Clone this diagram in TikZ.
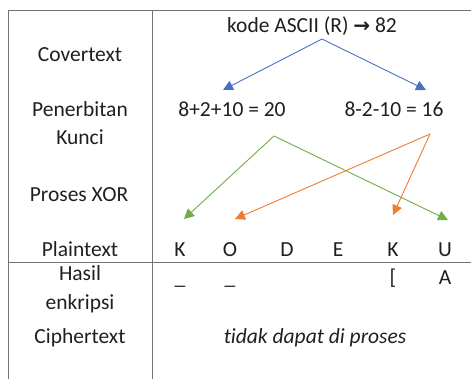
\documentclass[tikz,border=0pt]{standalone}
\usepackage{fontspec}
\setmainfont{Carlito}[Ligatures={NoCommon}]
\newfontfamily\symfont{DejaVu Sans}
\usetikzlibrary{arrows.meta}
\tikzset{
  txt/.style={anchor=base, inner sep=0pt, font=\fontsize{21.5}{26}\selectfont, text=black!88},
  grid/.style={draw=black!55, line width=0.9pt},
  arr/.style={line width=0.9pt, -{Triangle[length=10pt,width=10pt]}},
}
\definecolor{oblue}{HTML}{4472C4}
\definecolor{oorange}{HTML}{ED7D31}
\definecolor{ogreen}{HTML}{70AD47}
\begin{document}
\begin{tikzpicture}[x=1pt,y=-1pt]
\useasboundingbox (0,0) rectangle (471,379);
% table lines
\draw[grid] (8,379) -- (8,10) -- (471,10);
\draw[grid] (152,10) -- (152,379);
\draw[grid] (8,262) -- (471,262);
% left column
\node[txt] (cov) at (80,62) {Covertext};
\node[txt] (pen) at (80,117) {Penerbitan};
\node[txt] (kun) at (80,145) {Kunci};
\node[txt] (xor) at (79,202) {Proses XOR};
\node[txt] (pla) at (80,257) {Plaintext};
\node[txt] (has) at (80,280) {Hasil};
\node[txt] (enk) at (80,309) {enkripsi};
\node[txt] (cip) at (80,343) {Ciphertext};
% content
\node[txt] (asc) at (312,33) {kode ASCII (R) {\symfont\bfseries\fontsize{20}{22}\selectfont\raisebox{0.5pt}{→}} 82};
\node[txt] (k1) at (232,117) {8+2+10 = 20};
\node[txt] (k2) at (394,117) {8-2-10 = 16};
\node[txt] (pK) at (180,257) {K};
\node[txt] (pO) at (230,257) {O};
\node[txt] (pD) at (287,257) {D};
\node[txt] (pE) at (338,257) {E};
\node[txt] (pK2) at (393,257) {K};
\node[txt] (pU) at (445,257) {U};
\node[txt] (h1) at (180,285) {\_};
\node[txt] (h2) at (230,285) {\_};
\node[txt] (h5) at (393,285) {[};
\node[txt] (h6) at (445,285) {A};
\node[txt] (tdp) at (315,343) {\itshape tidak dapat di proses};
% arrow coordinates
\coordinate (bA) at (322,39);
\coordinate (bL) at (223,90);
\coordinate (bR) at (426,90);
\coordinate (gA) at (274,136);
\coordinate (gL) at (184,219);
\coordinate (gR) at (448,220);
\coordinate (oA) at (430,134);
\coordinate (oL) at (235,219);
\coordinate (oR) at (393,215);
\draw[arr, oblue] (bA) -- (bL);
\draw[arr, oblue] (bA) -- (bR);
\draw[arr, ogreen] (gA) -- (gL);
\draw[arr, ogreen] (gA) -- (gR);
\draw[arr, oorange] (oA) -- (oL);
\draw[arr, oorange] (oA) -- (oR);
\end{tikzpicture}
\end{document}
